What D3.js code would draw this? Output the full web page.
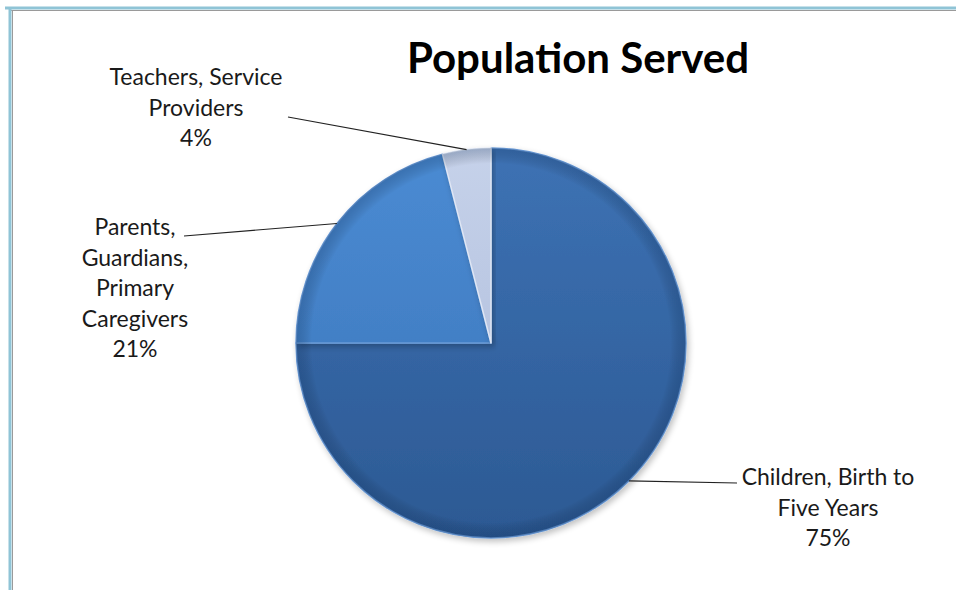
<!DOCTYPE html>
<html>
<head>
    <title>Population Served</title>
    <style>
        body { margin: 0; background: #fff; }
        text { font-family: Lato, "Open Sans", sans-serif; fill: #1a1a1a; }
    </style>
</head>
<body>
<svg id="chart" width="956" height="590"></svg>

<script src="https://d3js.org/d3.v7.min.js"></script>
<script type="text/javascript">

const categories = ['Children, Birth to Five Years', 'Parents, Guardians, Primary Caregivers', 'Teachers, Service Providers'];
const values = [75, 21, 4];
const labelLines = [
    ['Children, Birth to', 'Five Years'],
    ['Parents,', 'Guardians,', 'Primary', 'Caregivers'],
    ['Teachers, Service', 'Providers']
];
const percentLabels = ['75%', '21%', '4%'];

const data = categories.map((c, i) => ({ name: c, value: values[i], lines: labelLines[i], pct: percentLabels[i] }));

function renderChart(data) {
    let svg = d3.select('#chart');

    // frame like the spreadsheet chart area
    let frame = svg.append('g').attr('class', 'frame');
    frame.append('line').attr('x1', 5).attr('x2', 956).attr('y1', 8).attr('y2', 8)
        .attr('stroke', '#8fc4d6').attr('stroke-width', 3);
    frame.append('line').attr('x1', 11).attr('x2', 956).attr('y1', 10.5).attr('y2', 10.5)
        .attr('stroke', '#9a9a9a').attr('stroke-width', 1);
    frame.append('line').attr('x1', 10).attr('x2', 10).attr('y1', 7).attr('y2', 590)
        .attr('stroke', '#8fc4d6').attr('stroke-width', 3);
    frame.append('line').attr('x1', 12.5).attr('x2', 12.5).attr('y1', 10).attr('y2', 590)
        .attr('stroke', '#9a9a9a').attr('stroke-width', 1);

    svg.append('text')
        .attr('x', 578)
        .attr('y', 73)
        .attr('text-anchor', 'middle')
        .style('font-size', '42px')
        .style('font-weight', 'bold')
        .style('fill', '#000')
        .text('Population Served');

    const cx = 491, cy = 343, radius = 195;

    let defs = svg.append('defs');
    const fills = [
        ['#3d72b4', '#2c5993'],
        ['#4a8bd3', '#3b74b8'],
        ['#c6d2ea', '#a9b8d8']
    ];
    fills.forEach((f, i) => {
        let g = defs.append('linearGradient')
            .attr('id', 'grad' + i)
            .attr('gradientUnits', 'userSpaceOnUse')
            .attr('x1', 0).attr('y1', -radius).attr('x2', 0).attr('y2', radius);
        g.append('stop').attr('offset', '0%').attr('stop-color', f[0]);
        g.append('stop').attr('offset', '100%').attr('stop-color', f[1]);
    });
    let rim = defs.append('radialGradient').attr('id', 'rim')
        .attr('gradientUnits', 'userSpaceOnUse')
        .attr('cx', 0).attr('cy', 0).attr('r', radius);
    rim.append('stop').attr('offset', '92%').attr('stop-color', '#000').attr('stop-opacity', 0);
    rim.append('stop').attr('offset', '100%').attr('stop-color', '#0a2a55').attr('stop-opacity', 0.25);

    let shadow = defs.append('filter').attr('id', 'shadow')
        .attr('x', '-10%').attr('y', '-10%').attr('width', '120%').attr('height', '120%');
    shadow.append('feGaussianBlur').attr('in', 'SourceAlpha').attr('stdDeviation', 3);
    shadow.append('feOffset').attr('dx', 2).attr('dy', 3).attr('result', 'off');
    shadow.append('feComponentTransfer').append('feFuncA').attr('type', 'linear').attr('slope', 0.25);
    let merge = shadow.append('feMerge');
    merge.append('feMergeNode');
    merge.append('feMergeNode').attr('in', 'SourceGraphic');

    const pie = d3.pie().sort(null).value(d => d.value);
    const arcs = pie(data);
    const arc = d3.arc().innerRadius(0).outerRadius(radius);
    const edgeArc = d3.arc().innerRadius(radius).outerRadius(radius);

    let pieGroup = svg.append('g')
        .attr('class', 'pie')
        .attr('transform', `translate(${cx}, ${cy})`);

    pieGroup.selectAll('.slice')
        .data(arcs)
        .join('path')
            .attr('class', 'slice')
            .attr('d', arc)
            .attr('fill', (d, i) => `url(#grad${i})`)
            .attr('filter', 'url(#shadow)')
            .attr('stroke', (d, i) => i === 2 ? '#dfe6f4' : '#6a9ad6')
            .attr('stroke-width', 1.5)
            .attr('stroke-linejoin', 'round');

    pieGroup.append('circle')
        .attr('r', radius)
        .attr('fill', 'url(#rim)')
        .style('pointer-events', 'none');

    // label anchors (centre x, first baseline) and leader line ends
    const labelPos = [
        { x: 828, y: 485, lx: 737, ly: 483 },
        { x: 135, y: 235, lx: 184, ly: 236 },
        { x: 196, y: 85, lx: 288, ly: 117 }
    ];
    const lineHeight = 30.5;

    let labels = svg.append('g').attr('class', 'labels');
    arcs.forEach((d, i) => {
        const p = labelPos[i];
        const [ex, ey] = edgeArc.centroid(d);
        labels.append('line')
            .attr('x1', cx + ex).attr('y1', cy + ey)
            .attr('x2', p.lx).attr('y2', p.ly)
            .attr('stroke', '#222')
            .attr('stroke-width', 1.2);
        let t = labels.append('text')
            .attr('text-anchor', 'middle')
            .style('font-size', '23px');
        d.data.lines.concat([d.data.pct]).forEach((line, j) => {
            t.append('tspan')
                .attr('x', p.x)
                .attr('y', p.y + j * lineHeight)
                .text(line);
        });
    });
}

renderChart(data);

</script>
</body>
</html>
